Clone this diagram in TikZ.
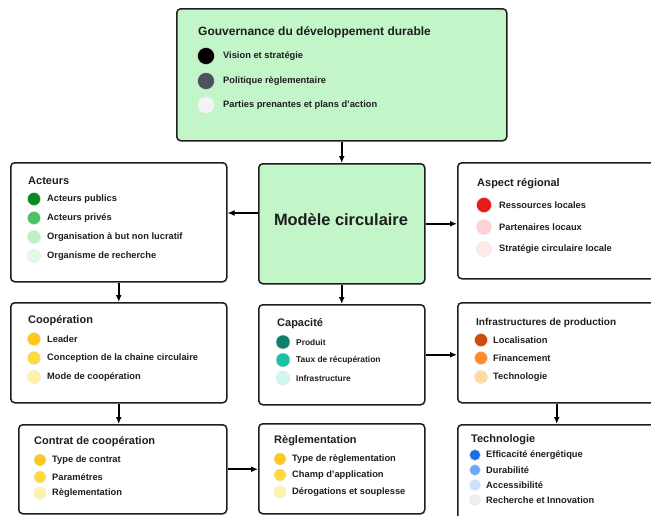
\documentclass[tikz,border=0pt]{standalone}
\usepackage{fontspec}
\setmainfont{Liberation Sans}
\usetikzlibrary{arrows.meta,calc}
\definecolor{boxgreen}{HTML}{C2F5C7}
\definecolor{txt}{HTML}{1E1E1E}
\definecolor{gA}{HTML}{000000}
\definecolor{gB}{HTML}{4B5260}
\definecolor{gC}{HTML}{F2F3F5}
\definecolor{aA}{HTML}{0A8A1F}
\definecolor{aB}{HTML}{4CC265}
\definecolor{aC}{HTML}{BDF0C4}
\definecolor{aD}{HTML}{E3F8E5}
\definecolor{rA}{HTML}{E81919}
\definecolor{rB}{HTML}{FFD0D5}
\definecolor{rC}{HTML}{FFE9E9}
\definecolor{yA}{HTML}{FFC81A}
\definecolor{yB}{HTML}{FFDA3A}
\definecolor{yC}{HTML}{FFF3A8}
\definecolor{tA}{HTML}{0D7F6F}
\definecolor{tB}{HTML}{17C3A8}
\definecolor{tC}{HTML}{D2F5EF}
\definecolor{oA}{HTML}{CC4E0A}
\definecolor{oB}{HTML}{FF8C33}
\definecolor{oC}{HTML}{FFD9A0}
\definecolor{bA}{HTML}{1A6FE6}
\definecolor{bB}{HTML}{6AA9FF}
\definecolor{bC}{HTML}{CCE0FF}
\definecolor{bD}{HTML}{EFEFEF}
\tikzset{
  panel/.style={draw=txt, line width=1.5pt, rounded corners=4pt, anchor=north west, inner sep=0pt, fill=white},
  title/.style={anchor=west, inner sep=0pt, text=txt, font=\bfseries\fontsize{11}{13}\selectfont},
  itm/.style={anchor=west, inner sep=0pt, text=txt, font=\bfseries\fontsize{9.3}{11}\selectfont},
  bul/.style={circle, inner sep=0pt, draw=black!10, line width=0.4pt},
  arr/.style={draw=black, line width=1.7pt, -{Latex[length=7pt,width=6pt]}}
}
% name, cx, cy, diameter, colour, text x, text
\newcommand\bulitem[7]{%
  \node[bul, minimum size=#4pt, fill=#5] (#1d) at (#2,#3) {};
  \node[itm] (#1t) at (#6,#3) {#7};}
\begin{document}
\begin{tikzpicture}[x=1pt,y=-1pt]
\useasboundingbox (0,0) rectangle (651,515);
\clip (0,0) rectangle (651,515);
% panels
\node[panel, fill=boxgreen, minimum width=330pt, minimum height=132pt] (gov) at (176,8) {};
\node[panel, minimum width=216pt, minimum height=119pt] (act) at (10,162) {};
\node[panel, fill=boxgreen, minimum width=166pt, minimum height=120pt] (mod) at (258,163) {};
\node[panel, minimum width=198pt, minimum height=116pt] (asp) at (457,162) {};
\node[panel, minimum width=216pt, minimum height=100pt] (coo) at (10,302) {};
\node[panel, minimum width=166pt, minimum height=100pt] (cap) at (258,304) {};
\node[panel, minimum width=198pt, minimum height=100pt] (inf) at (457,302) {};
\node[panel, minimum width=208pt, minimum height=89pt] (con) at (18,424) {};
\node[panel, minimum width=166pt, minimum height=90pt] (reg) at (258,423) {};
\node[panel, minimum width=198pt, minimum height=100pt] (tec) at (457,424) {};
% gouvernance
\node[title, font=\bfseries\fontsize{12}{14}\selectfont] (govT) at (198,32) {Gouvernance du développement durable};
\bulitem{g1}{206}{56}{17}{gA}{223}{Vision et stratégie}
\bulitem{g2}{206}{81}{17}{gB}{223}{Politique règlementaire}
\bulitem{g3}{206}{105}{17}{gC}{223}{Parties prenantes et plans d'action}
% modele
\node[inner sep=0pt, text=txt, font=\bfseries\fontsize{16.4}{19}\selectfont] (modT) at (341,220) {Modèle circulaire};
% acteurs
\node[title] (actT) at (28,181) {Acteurs};
\bulitem{a1}{34}{199}{13}{aA}{47}{Acteurs publics}
\bulitem{a2}{34}{218}{13}{aB}{47}{Acteurs privés}
\bulitem{a3}{34}{237}{13}{aC}{47}{Organisation à but non lucratif}
\bulitem{a4}{34}{256}{13}{aD}{47}{Organisme de recherche}
% aspect regional
\node[title] (aspT) at (477,184) {Aspect régional};
\bulitem{r1}{484}{205}{15}{rA}{499}{Ressources locales}
\bulitem{r2}{484}{227}{15}{rB}{499}{Partenaires locaux}
\bulitem{r3}{484}{249}{15}{rC}{499}{Stratégie circulaire locale}
% cooperation
\node[title] (cooT) at (28,321) {Coopération};
\bulitem{c1}{34}{339}{13}{yA}{47}{Leader}
\bulitem{c2}{34}{358}{13}{yB}{47}{Conception de la chaine circulaire}
\bulitem{c3}{34}{377}{13}{yC}{47}{Mode de coopération}
% capacite
\node[title] (capT) at (277,324) {Capacité};
\begin{scope}[itm/.append style={font=\bfseries\fontsize{8.4}{10}\selectfont}]
\bulitem{p1}{283}{342}{14}{tA}{296}{Produit}
\bulitem{p2}{283}{360}{14}{tB}{296}{Taux de récupération}
\bulitem{p3}{283}{378}{14}{tC}{296}{Infrastructure}
\end{scope}
% infrastructures
\node[title, font=\bfseries\fontsize{10}{12}\selectfont] (infT) at (476,323) {Infrastructures de production};
\bulitem{i1}{481}{340}{13}{oA}{493}{Localisation}
\bulitem{i2}{481}{358}{13}{oB}{493}{Financement}
\bulitem{i3}{481}{377}{13}{oC}{493}{Technologie}
% contrat
\node[title] (conT) at (34,442) {Contrat de coopération};
\bulitem{k1}{40}{460}{12}{yA}{52}{Type de contrat}
\bulitem{k2}{40}{477}{12}{yB}{52}{Paramétres}
\bulitem{k3}{40}{493}{12}{yC}{52}{Règlementation}
% reglementation
\node[title] (regT) at (274,441) {Règlementation};
\bulitem{e1}{280}{459}{12}{yA}{292}{Type de règlementation}
\bulitem{e2}{280}{475}{12}{yB}{292}{Champ d'application}
\bulitem{e3}{280}{492}{12}{yC}{292}{Dérogations et souplesse}
% technologie
\node[title] (tecT) at (471,440) {Technologie};
\bulitem{h1}{475}{455}{11}{bA}{486}{Efficacité énergétique}
\bulitem{h2}{475}{470}{11}{bB}{486}{Durabilité}
\bulitem{h3}{475}{485}{11}{bC}{486}{Accessibilité}
\bulitem{h4}{475}{500}{11}{bD}{486}{Recherche et Innovation}
% connectors
\coordinate (ya) at (0,213);
\draw[arr] (gov.south) -- (mod.north);
\draw[arr] (mod.west |- ya) -- (act.east |- ya);
\draw[arr] (mod.east) -- (mod.east -| asp.west);
\draw[arr] (act.south) -- (act.south |- coo.north);
\draw[arr] (mod.south) -- (cap.north);
\draw[arr] (cap.east) -- (cap.east -| inf.west);
\draw[arr] (coo.south) -- (coo.south |- con.north);
\draw[arr] (con.east) -- (con.east -| reg.west);
\draw[arr] (inf.south) -- (inf.south |- tec.north);
\end{tikzpicture}
\end{document}
